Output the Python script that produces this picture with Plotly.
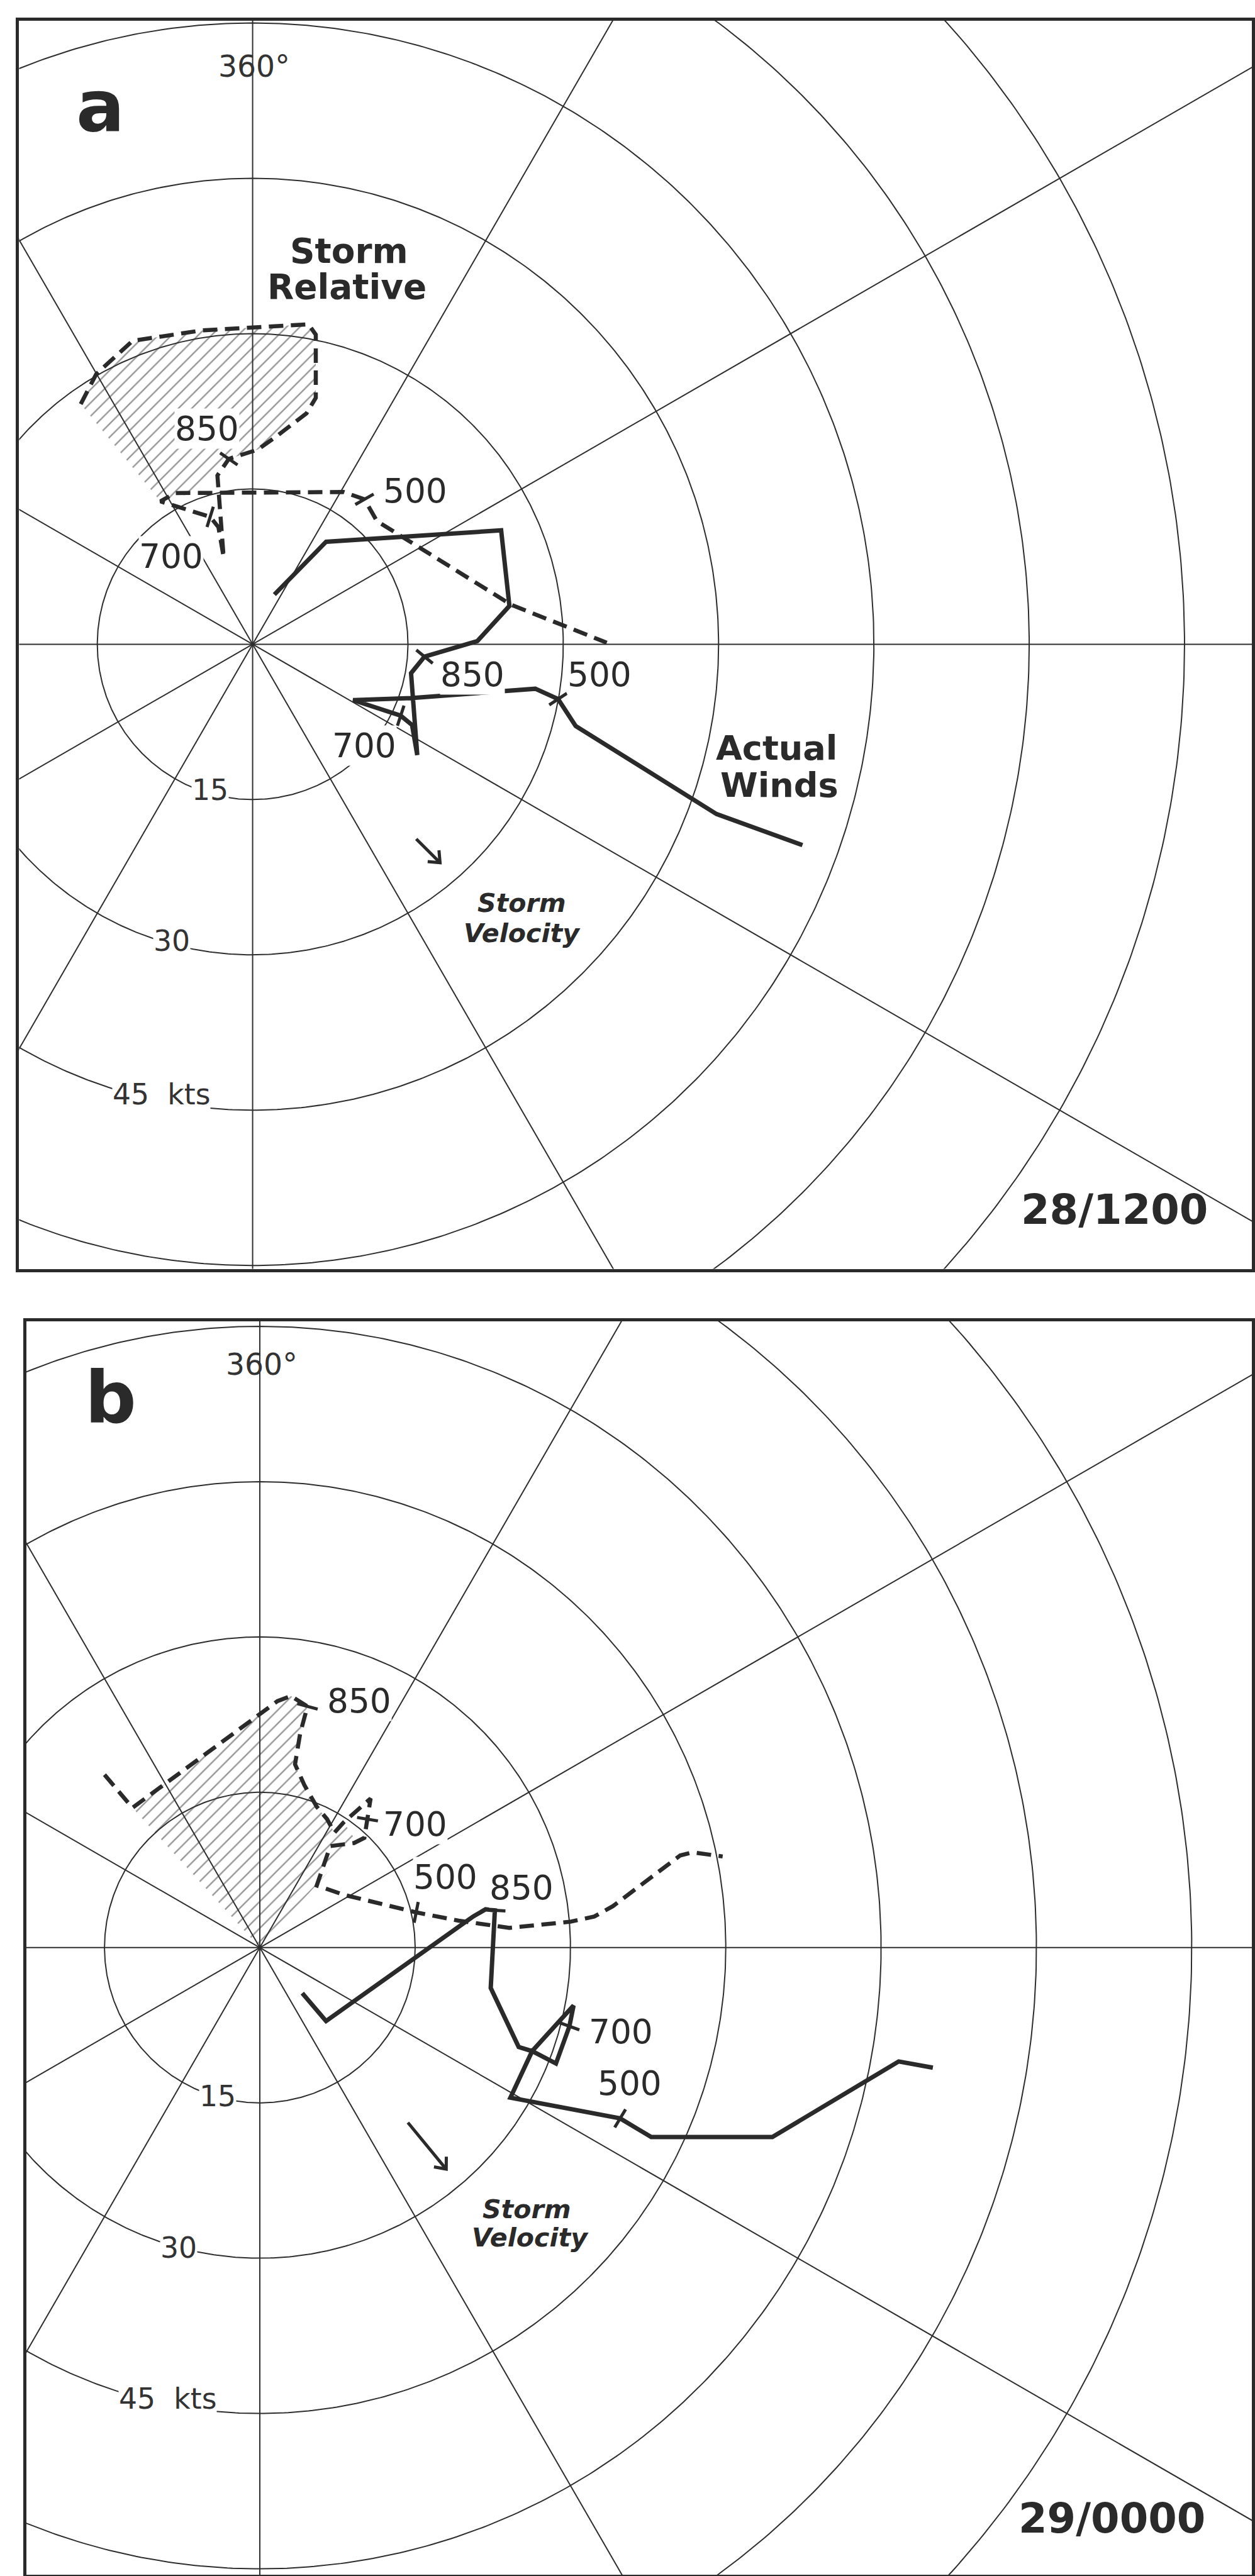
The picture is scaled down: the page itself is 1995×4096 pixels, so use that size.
import math
import plotly.graph_objects as go

# ------------------------------------------------------------------
# DATA (knots; u = eastward component, v = northward component)
# ------------------------------------------------------------------
RINGS_KTS = [15, 30, 45, 60, 75, 90]
SPOKES_DEG = [0, 30, 60, 90, 120, 150, 180, 210, 240, 270, 300, 330]
RING_LABELS = ["15", "30", "45\u00a0\u00a0kts"]
LEVELS = ["850", "700", "500"]

# ---- panel a : 28/1200 ----
A_ACT_U = [2.1, 7.1, 24.0, 24.8, 21.7, 16.6, 15.3, 15.9, 15.4, 14.3, 9.7, 15.3, 27.3, 29.5, 31.2, 44.8, 53.1]
A_ACT_V = [4.8, 9.9, 11.0, 3.7, 0.3, -1.2, -2.8, -10.7, -7.8, -6.9, -5.4, -5.2, -4.3, -5.3, -7.9, -16.4, -19.4]
A_ACT_LVL_U = [16.6, 14.3, 29.5]
A_ACT_LVL_V = [-1.2, -6.9, -5.3]
A_ACT_LBL_U = [21.2, 10.8, 33.5]
A_ACT_LBL_V = [-2.9, -9.8, -2.9]

A_SR_U = [-16.6, -15.1, -11.6, -5.0, 5.4, 6.1, 6.1, 5.2, 2.2, 0.5, -2.3, -3.4, -2.8, -3.3, -4.1, -8.9, -7.5, 8.8, 10.8, 12.0, 25.0, 34.2]
A_SR_V = [23.2, 26.1, 29.3, 30.3, 30.9, 29.9, 23.8, 22.3, 20.0, 18.8, 17.9, 16.3, 8.4, 11.3, 12.3, 13.8, 14.6, 14.7, 14.0, 11.9, 3.8, 0.15]
A_SR_LVL_U = [-2.3, -4.1, 10.8]
A_SR_LVL_V = [17.9, 12.3, 14.0]
A_SR_LBL_U = [-4.4, -7.9, 15.7]
A_SR_LBL_V = [20.8, 8.5, 14.8]

A_HATCH_U = [-16.6, -15.1, -11.6, -5.0, 5.4, 6.1, 6.1, 5.2, 2.2, 0.5, -2.3, -5.4, -8.9]
A_HATCH_V = [23.2, 26.1, 29.3, 30.3, 30.9, 29.9, 23.8, 22.3, 20.0, 18.8, 17.9, 14.7, 13.8]

A_STORM_TAIL = (15.8, -18.8)
A_STORM_HEAD = (18.1, -21.1)

# ---- panel b : 29/0000 ----
B_ACT_U = [4.1, 6.4, 20.6, 21.8, 22.7, 22.3, 25.0, 26.3, 30.3, 29.9, 28.6, 26.3, 24.2, 34.8, 37.8, 49.5, 61.7, 65.0]
B_ACT_V = [-4.4, -7.1, 3.0, 3.7, 3.6, -3.9, -9.6, -10.0, -5.6, -7.6, -11.2, -10.0, -14.5, -16.5, -18.3, -18.3, -11.0, -11.6]
B_ACT_LVL_U = [22.7, 29.9, 34.8]
B_ACT_LVL_V = [3.6, -7.6, -16.5]
B_ACT_LBL_U = [25.3, 34.9, 35.7]
B_ACT_LBL_V = [5.8, -8.1, -13.1]

B_SR_U = [-15.0, -12.3, 1.7, 3.0, 4.6, 3.9, 3.4, 4.3, 5.5, 6.5, 7.2, 8.1, 10.7, 10.4, 10.1, 9.1, 6.8, 5.5, 8.1,
          15.1, 19.2, 24.1, 30.0, 32.3, 34.1, 40.6, 41.8, 44.7]
B_SR_V = [16.7, 13.5, 23.8, 24.3, 23.3, 20.7, 17.7, 15.7, 13.6, 12.4, 11.1, 12.1, 14.4, 12.4, 10.6, 10.1, 9.8, 6.0, 5.1,
          3.4, 2.6, 1.9, 2.5, 3.0, 4.0, 8.9, 9.2, 8.8]
B_SR_LVL_U = [4.6, 10.4, 15.1]
B_SR_LVL_V = [23.3, 12.4, 3.4]
B_SR_LBL_U = [9.6, 15.0, 17.9]
B_SR_LBL_V = [23.8, 11.9, 6.8]

B_HATCH_U = [0.0, -12.3, 1.7, 3.0, 4.6, 3.9, 3.4, 4.3, 5.5, 6.5, 7.2, 8.1, 9.3]
B_HATCH_V = [0.0, 13.5, 23.8, 24.3, 23.3, 20.7, 17.7, 15.7, 13.6, 12.4, 11.1, 12.1, 10.3]

B_STORM_TAIL = (14.3, -16.9)
B_STORM_HEAD = (18.0, -21.4)

# ------------------------------------------------------------------
# LAYOUT GEOMETRY (reference pixels -> output)
# ------------------------------------------------------------------
REF_W, REF_H = 2618, 5374
OUT_W, OUT_H = 1995, 4096
S = OUT_W / REF_W
K = 21.6  # reference px per knot

PANELS = [
    dict(name="a", box=(40, 43, 2612, 2647), center=(527, 1344), xa="x", ya="y", stamp="28/1200"),
    dict(name="b", box=(55, 2756, 2612, 5372), center=(542, 4063), xa="x2", ya="y2", stamp="29/0000"),
]

INK = "#2a2a2a"
GRID = "#2e2e2e"
FONT = "DejaVu Sans"


def fs(ref_px):
    return ref_px * S


fig = go.Figure()
layout_axes = {}
annotations = []


def add_ann(p, x, y, text, size, bold=False, italic=False, bg=None, color=INK):
    d = dict(xref=p["xa"], yref=p["ya"], x=x, y=y, text=text, showarrow=False,
             xanchor="center", yanchor="middle",
             font=dict(family=FONT, size=size, color=color,
                       weight="bold" if bold else "normal",
                       style="italic" if italic else "normal"))
    if bg:
        d.update(bgcolor=bg, borderpad=0)
    annotations.append(d)


def tick_angles(pu, pv, tu, tv):
    """Marker rotation so that each level tick is perpendicular to the hodograph."""
    out = []
    for x, y in zip(tu, tv):
        best, bi = None, 0
        for i in range(len(pu) - 1):
            ax, ay, bx, by = pu[i], pv[i], pu[i + 1], pv[i + 1]
            dx, dy = bx - ax, by - ay
            L2 = dx * dx + dy * dy or 1e-9
            t = max(0.0, min(1.0, ((x - ax) * dx + (y - ay) * dy) / L2))
            d = math.hypot(ax + t * dx - x, ay + t * dy - y)
            if best is None or d <= best + 1e-6:
                best, bi = d, i
                if d < 1e-6:
                    break_next = True
        # prefer the segment that starts at the tick when it is a vertex
        for i in range(len(pu) - 1):
            if abs(pu[i] - x) < 1e-6 and abs(pv[i] - y) < 1e-6:
                bi = i
                break
        du, dv = pu[bi + 1] - pu[bi], pv[bi + 1] - pv[bi]
        phi = math.degrees(math.atan2(-dv, du))
        out.append(phi + 90)
    return out


for idx, p in enumerate(PANELS):
    l, t, r, b = p["box"]
    cx, cy = p["center"]
    xdom = [l / REF_W, r / REF_W]
    ydom = [1 - b / REF_H, 1 - t / REF_H]
    xr = [(l - cx) / K, (r - cx) / K]
    yr = [(cy - b) / K, (cy - t) / K]
    ax_common = dict(showgrid=False, zeroline=False, showticklabels=False, ticks="",
                     showline=True, mirror=True, linewidth=5, linecolor=INK, fixedrange=True)
    xkey = "xaxis" if idx == 0 else "xaxis2"
    ykey = "yaxis" if idx == 0 else "yaxis2"
    layout_axes[xkey] = dict(domain=xdom, range=xr, anchor=p["ya"], **ax_common)
    layout_axes[ykey] = dict(domain=ydom, range=yr, anchor=p["xa"], **ax_common)

    # --- polar grid: rings ---
    n = 721
    for rk in RINGS_KTS:
        us = [rk * math.sin(2 * math.pi * i / (n - 1)) for i in range(n)]
        vs = [rk * math.cos(2 * math.pi * i / (n - 1)) for i in range(n)]
        fig.add_trace(go.Scatter(x=us, y=vs, mode="lines", xaxis=p["xa"], yaxis=p["ya"],
                                 line=dict(color=GRID, width=2), hoverinfo="skip", showlegend=False))
    # --- polar grid: spokes ---
    for a in SPOKES_DEG:
        ar = math.radians(a)
        fig.add_trace(go.Scatter(x=[0, 140 * math.sin(ar)], y=[0, 140 * math.cos(ar)], mode="lines",
                                 xaxis=p["xa"], yaxis=p["ya"],
                                 line=dict(color=GRID, width=2), hoverinfo="skip", showlegend=False))

    if p["name"] == "a":
        hu, hv = A_HATCH_U, A_HATCH_V
        act = (A_ACT_U, A_ACT_V, A_ACT_LVL_U, A_ACT_LVL_V, A_ACT_LBL_U, A_ACT_LBL_V)
        sr = (A_SR_U, A_SR_V, A_SR_LVL_U, A_SR_LVL_V, A_SR_LBL_U, A_SR_LBL_V)
        tail, head = A_STORM_TAIL, A_STORM_HEAD
    else:
        hu, hv = B_HATCH_U, B_HATCH_V
        act = (B_ACT_U, B_ACT_V, B_ACT_LVL_U, B_ACT_LVL_V, B_ACT_LBL_U, B_ACT_LBL_V)
        sr = (B_SR_U, B_SR_V, B_SR_LVL_U, B_SR_LVL_V, B_SR_LBL_U, B_SR_LBL_V)
        tail, head = B_STORM_TAIL, B_STORM_HEAD

    # --- hatched helicity area ---
    fig.add_trace(go.Scatter(x=hu + [hu[0]], y=hv + [hv[0]], mode="none", fill="toself",
                             xaxis=p["xa"], yaxis=p["ya"],
                             fillcolor="rgba(0,0,0,0)",
                             fillpattern=dict(shape="/", size=15, solidity=0.16, fgcolor="#2e2e2e",
                                              bgcolor="rgba(0,0,0,0)"),
                             hoverinfo="skip", showlegend=False))

    # --- storm-relative hodograph (dashed) ---
    fig.add_trace(go.Scatter(x=sr[0], y=sr[1], mode="lines", xaxis=p["xa"], yaxis=p["ya"],
                             line=dict(color=INK, width=6.5, dash="23px,12px"),
                             hoverinfo="skip", showlegend=False))
    # --- actual-wind hodograph (solid) ---
    fig.add_trace(go.Scatter(x=act[0], y=act[1], mode="lines", xaxis=p["xa"], yaxis=p["ya"],
                             line=dict(color=INK, width=7),
                             hoverinfo="skip", showlegend=False))

    # --- level tick marks ---
    for ser in (sr, act):
        angs = tick_angles(ser[0], ser[1], ser[2], ser[3])
        fig.add_trace(go.Scatter(x=ser[2], y=ser[3], mode="markers", xaxis=p["xa"], yaxis=p["ya"],
                                 marker=dict(symbol="line-ew", size=24, angle=angs,
                                             line=dict(color=INK, width=5)),
                                 hoverinfo="skip", showlegend=False))
        for lab, lu, lv in zip(LEVELS, ser[4], ser[5]):
            add_ann(p, lu, lv, lab, fs(70), bg="white")

    # --- storm velocity arrow ---
    du, dv = head[0] - tail[0], head[1] - tail[1]
    ln = math.hypot(du, dv)
    eu, ev = du / ln, dv / ln
    bl = 1.2
    barbs = []
    for sgn in (1, -1):
        ang = math.radians(180 + sgn * 40)
        bu = eu * math.cos(ang) - ev * math.sin(ang)
        bv = eu * math.sin(ang) + ev * math.cos(ang)
        barbs.append((head[0] + bl * bu, head[1] + bl * bv))
    fig.add_trace(go.Scatter(
        x=[tail[0], head[0], None, barbs[0][0], head[0], barbs[1][0]],
        y=[tail[1], head[1], None, barbs[0][1], head[1], barbs[1][1]],
        mode="lines", xaxis=p["xa"], yaxis=p["ya"],
        line=dict(color=INK, width=5), hoverinfo="skip", showlegend=False))

    # --- texts ---
    if p["name"] == "a":
        ring_lbl = [(-4.1, -14.1), (-7.8, -28.7), (-8.8, -43.5)]
        add_ann(p, 0.12, 55.8, "360°", fs(62), color="#333333")
        add_ann(p, -14.7, 52.0, "a", fs(150), bold=True)
        add_ann(p, 9.3, 38.0, "Storm", fs(72), bold=True)
        add_ann(p, 9.1, 34.5, "Relative", fs(72), bold=True)
        add_ann(p, 50.6, -10.0, "Actual", fs(71), bold=True)
        add_ann(p, 50.9, -13.6, "Winds", fs(71), bold=True)
        add_ann(p, 26.0, -25.0, "Storm", fs(54), bold=True, italic=True)
        add_ann(p, 26.0, -27.9, "Velocity", fs(54), bold=True, italic=True)
        add_ann(p, 83.2, -54.6, p["stamp"], fs(86), bold=True)
    else:
        ring_lbl = [(-4.05, -14.4), (-7.85, -29.0), (-8.9, -43.6)]
        add_ann(p, 0.18, 56.3, "360°", fs(62), color="#333333")
        add_ann(p, -14.4, 53.1, "b", fs(150), bold=True)
        add_ann(p, 25.8, -25.3, "Storm", fs(54), bold=True, italic=True)
        add_ann(p, 26.1, -28.0, "Velocity", fs(54), bold=True, italic=True)
        add_ann(p, 82.3, -55.1, p["stamp"], fs(86), bold=True)
    for txt, (lu, lv) in zip(RING_LABELS, ring_lbl):
        add_ann(p, lu, lv, txt, fs(60), bg="white", color="#333333")

fig.update_layout(
    width=OUT_W, height=OUT_H,
    margin=dict(l=0, r=0, t=0, b=0),
    paper_bgcolor="white", plot_bgcolor="white",
    showlegend=False,
    annotations=annotations,
    **layout_axes,
)

fig.write_html("out.html", config={"displayModeBar": False, "staticPlot": True},
               post_script="document.body.style.margin='0';document.body.style.overflow='hidden';")
